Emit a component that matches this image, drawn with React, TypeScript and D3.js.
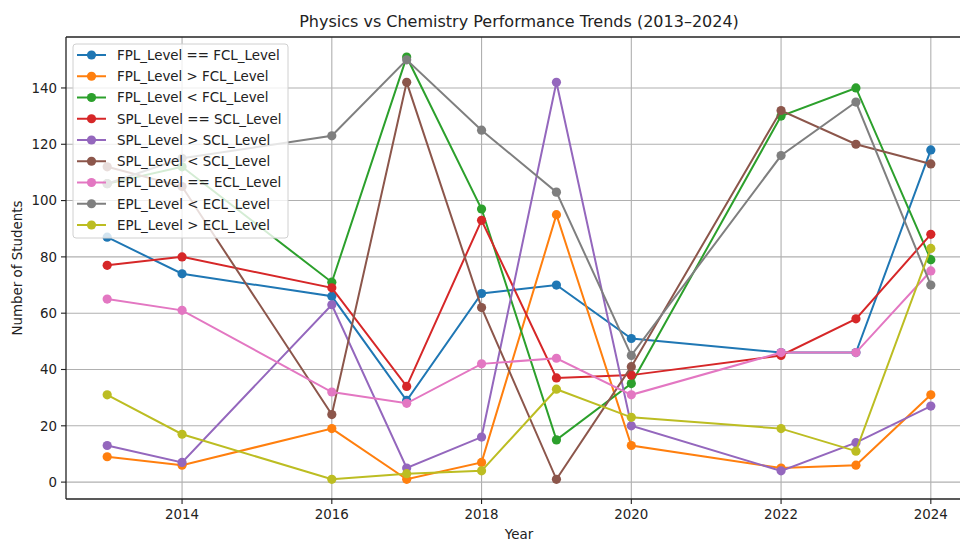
import React from "react";
import * as d3 from "d3";

const years = [2013, 2014, 2016, 2017, 2018, 2019, 2020, 2022, 2023, 2024];

const seriesNames = [
  "FPL_Level == FCL_Level",
  "FPL_Level > FCL_Level",
  "FPL_Level < FCL_Level",
  "SPL_Level == SCL_Level",
  "SPL_Level > SCL_Level",
  "SPL_Level < SCL_Level",
  "EPL_Level == ECL_Level",
  "EPL_Level < ECL_Level",
  "EPL_Level > ECL_Level",
];

const fplEq = [87, 74, 66, 29, 67, 70, 51, 46, 46, 118];
const fplGt = [9, 6, 19, 1, 7, 95, 13, 5, 6, 31];
const fplLt = [106, 112, 71, 151, 97, 15, 35, 130, 140, 79];
const splEq = [77, 80, 69, 34, 93, 37, 38, 45, 58, 88];
const splGt = [13, 7, 63, 5, 16, 142, 20, 4, 14, 27];
const splLt = [112, 105, 24, 142, 62, 1, 41, 132, 120, 113];
const eplEq = [65, 61, 32, 28, 42, 44, 31, 46, 46, 75];
const eplLt = [106, 115, 123, 150, 125, 103, 45, 116, 135, 70];
const eplGt = [31, 17, 1, 3, 4, 33, 23, 19, 11, 83];

const seriesValues = [fplEq, fplGt, fplLt, splEq, splGt, splLt, eplEq, eplLt, eplGt];

const colors = [
  "#1f77b4", "#ff7f0e", "#2ca02c", "#d62728", "#9467bd",
  "#8c564b", "#e377c2", "#7f7f7f", "#bcbd22",
];

const xTicks = [2014, 2016, 2018, 2020, 2022, 2024];
const yTicks = [0, 20, 40, 60, 80, 100, 120, 140];

const W = 960;
const H = 541;
const left = 66;
const right = 972;
const top = 37;
const bottom = 499;
const FONT = "DejaVu Sans, sans-serif";

export default function App() {
  const x = d3.scaleLinear().domain([2012.45, 2024.55]).range([left, right]);
  const y = d3.scaleLinear().domain([-6.0, 158.1]).range([bottom, top]);
  const line = d3
    .line<number>()
    .x((_, i) => x(years[i]))
    .y((d) => y(d));

  const legX = 73;
  const legY = 44;
  const legW = 215;
  const rowH = 21.25;
  const legH = 194;

  return (
    <svg
      width={W}
      height={H}
      style={{ position: "absolute", left: 0, top: 0, background: "#fff" }}
      fontFamily={FONT}
    >
      <defs>
        <clipPath id="plotclip">
          <rect x={left} y={top} width={right - left} height={bottom - top} />
        </clipPath>
      </defs>
      <rect x={0} y={0} width={W} height={H} fill="#fff" />
      {/* grid */}
      <g stroke="#b0b0b0" strokeWidth={1.1}>
        {xTicks.map((t) => (
          <line key={"gx" + t} x1={x(t)} x2={x(t)} y1={top} y2={bottom} />
        ))}
        {yTicks.map((t) => (
          <line key={"gy" + t} x1={left} x2={right} y1={y(t)} y2={y(t)} />
        ))}
      </g>
      {/* series */}
      <g clipPath="url(#plotclip)">
        {seriesValues.map((vals, si) => (
          <g key={si}>
            <path d={line(vals) || ""} fill="none" stroke={colors[si]} strokeWidth={2} />
            {vals.map((v, i) => (
              <circle key={i} cx={x(years[i])} cy={y(v)} r={4.6} fill={colors[si]} />
            ))}
          </g>
        ))}
      </g>
      {/* spines */}
      <g stroke="#222" strokeWidth={1.3} fill="none">
        <line x1={left} x2={left} y1={top} y2={bottom} />
        <line x1={left} x2={right} y1={bottom} y2={bottom} />
        <line x1={left} x2={right} y1={top} y2={top} />
      </g>
      {/* ticks */}
      <g stroke="#222" strokeWidth={1.1}>
        {xTicks.map((t) => (
          <line key={"tx" + t} x1={x(t)} x2={x(t)} y1={bottom} y2={bottom + 5} />
        ))}
        {yTicks.map((t) => (
          <line key={"ty" + t} x1={left - 5} x2={left} y1={y(t)} y2={y(t)} />
        ))}
      </g>
      <g fontSize={13.4} fill="#222">
        {xTicks.map((t) => (
          <text key={"lx" + t} x={x(t)} y={bottom + 20} textAnchor="middle">
            {t}
          </text>
        ))}
        {yTicks.map((t) => (
          <text key={"ly" + t} x={left - 9} y={y(t) + 4.8} textAnchor="end">
            {t}
          </text>
        ))}
      </g>
      <text x={(left + right) / 2} y={539} fontSize={13.4} textAnchor="middle" fill="#222">
        Year
      </text>
      <text
        transform={`translate(22, ${(top + bottom) / 2}) rotate(-90)`}
        fontSize={13.4}
        textAnchor="middle"
        fill="#222"
      >
        Number of Students
      </text>
      <text x={(left + right) / 2} y={27} fontSize={16} textAnchor="middle" fill="#222">
        Physics vs Chemistry Performance Trends (2013–2024)
      </text>
      {/* legend */}
      <g>
        <rect
          x={legX}
          y={legY}
          width={legW}
          height={legH}
          rx={3}
          fill="#fff"
          fillOpacity={0.8}
          stroke="#d0d0d0"
          strokeWidth={1}
        />
        {seriesNames.map((name, i) => {
          const cy = legY + 11 + rowH * i;
          return (
            <g key={name}>
              <line x1={legX + 4} x2={legX + 33} y1={cy} y2={cy} stroke={colors[i]} strokeWidth={2} />
              <circle cx={legX + 18.5} cy={cy} r={4.6} fill={colors[i]} />
              <text x={legX + 44} y={cy + 4.8} fontSize={13.4} fill="#222">
                {name}
              </text>
            </g>
          );
        })}
      </g>
    </svg>
  );
}
